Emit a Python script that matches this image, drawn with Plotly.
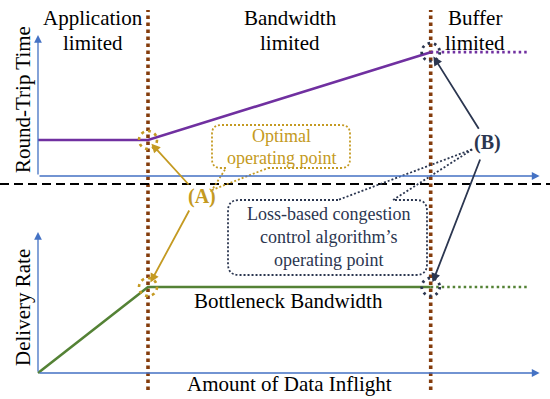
import plotly.graph_objects as go

# ---- data (conceptual units: inflight in BDP, RTT in minRTT, rate in BtlBw) ----
inflight = [0, 1, 3.57]          # origin, BDP, BDP + buffer
rtt = [1, 1, 3.44]               # round-trip time
rate = [0, 1, 1]                 # delivery rate
ext_x = [3.57, 4.47]             # beyond buffer (dotted)
rtt_ext = [3.44, 3.44]
rate_ext = [1, 1]
axis_end_x = 4.56
axis_end_rtt = 3.92
axis_end_rate = 1.64

W, H = 550, 399
PURPLE = "#7030A0"
GREEN = "#548235"
BLUE = "#4472C4"
BROWN = "#843C0C"
GOLD = "#C49A22"
NAVY = "#2B3650"
FONT = "Liberation Serif"


def P(px, py):
    return px / W, 1 - py / H


fig = go.Figure()
fig.add_trace(go.Scatter(x=inflight, y=rtt, mode="lines", line=dict(color=PURPLE, width=2.6),
                         xaxis="x", yaxis="y", hoverinfo="skip"))
fig.add_trace(go.Scatter(x=ext_x, y=rtt_ext, mode="lines", line=dict(color=PURPLE, width=2.6, dash="2.5px,3px"),
                         xaxis="x", yaxis="y", hoverinfo="skip"))
fig.add_trace(go.Scatter(x=inflight, y=rate, mode="lines", line=dict(color=GREEN, width=2.6),
                         xaxis="x", yaxis="y2", hoverinfo="skip"))
fig.add_trace(go.Scatter(x=ext_x, y=rate_ext, mode="lines", line=dict(color=GREEN, width=2.6, dash="2.5px,3px"),
                         xaxis="x", yaxis="y2", hoverinfo="skip"))

shapes = []
annotations = []

# vertical region separators
for xv in (inflight[1], inflight[2]):
    shapes.append(dict(type="line", xref="x", yref="paper", x0=xv, x1=xv,
                       y0=P(0, 390)[1], y1=P(0, 10)[1],
                       line=dict(color=BROWN, width=3.6, dash="3.5px,3.5px"), layer="below"))

# separator between panels
shapes.append(dict(type="line", xref="paper", yref="paper", x0=0, x1=1,
                   y0=P(0, 184)[1], y1=P(0, 184)[1],
                   line=dict(color="black", width=1.8, dash="9px,5px")))

# axes with arrows
for yref, top in (("y", axis_end_rtt), ("y2", axis_end_rate)):
    annotations.append(dict(x=axis_end_x, y=0, xref="x", yref=yref, ax=0, ay=0, axref="x", ayref=yref,
                            text="", showarrow=True, arrowhead=2, arrowsize=1.2, arrowwidth=1.3,
                            arrowcolor=BLUE))
    annotations.append(dict(x=0, y=top, xref="x", yref=yref, ax=0, ay=0, axref="x", ayref=yref,
                            text="", showarrow=True, arrowhead=2, arrowsize=1.2, arrowwidth=1.3,
                            arrowcolor=BLUE))

# operating point circles
def circ(x, y, yref, color, dash, r=10, w=2):
    return dict(type="circle", xref="x", yref=yref, xsizemode="pixel", ysizemode="pixel",
                xanchor=x, yanchor=y, x0=-r, x1=r, y0=-r, y1=r,
                line=dict(color=color, width=w, dash=dash))

shapes.append(circ(inflight[1], rtt[1], "y", GOLD, "3px,4px", r=9, w=2.6))
shapes.append(circ(inflight[1], rate[1], "y2", GOLD, "3px,4px", r=9, w=2.6))
shapes.append(circ(inflight[2], rtt[2], "y", NAVY, "2.5px,4px", r=9, w=2.8))
shapes.append(circ(inflight[2], rate[2], "y2", NAVY, "2.5px,4px", r=9, w=2.8))

# callout boxes (rounded, dotted, with wedge)
def callout(x0, y0, x1, y1, r, wedge, side, tip):
    a, b = wedge
    def pp(px, py):
        X, Y = P(px, py)
        return f"{X:.5f},{Y:.5f}"
    if side == "top":
        d = f"M{pp(a, y0)} L{pp(x0 + r, y0)} Q{pp(x0, y0)} {pp(x0, y0 + r)} L{pp(x0, y1 - r)} " \
            f"Q{pp(x0, y1)} {pp(x0 + r, y1)} L{pp(x1 - r, y1)} Q{pp(x1, y1)} {pp(x1, y1 - r)} " \
            f"L{pp(x1, y0 + r)} Q{pp(x1, y0)} {pp(x1 - r, y0)} L{pp(b, y0)} L{pp(*tip)} Z"
    else:
        d = f"M{pp(b, y1)} L{pp(x1 - r, y1)} Q{pp(x1, y1)} {pp(x1, y1 - r)} L{pp(x1, y0 + r)} " \
            f"Q{pp(x1, y0)} {pp(x1 - r, y0)} L{pp(x0 + r, y0)} Q{pp(x0, y0)} {pp(x0, y0 + r)} " \
            f"L{pp(x0, y1 - r)} Q{pp(x0, y1)} {pp(x0 + r, y1)} L{pp(a, y1)} L{pp(*tip)} Z"
    return d

shapes.append(dict(type="path", xref="paper", yref="paper",
                   path=callout(212, 125, 350, 168, 9, (226, 268), "bottom", (212, 190)),
                   line=dict(color=GOLD, width=1.8, dash="2px,2px"), fillcolor="rgba(0,0,0,0)"))
shapes.append(dict(type="path", xref="paper", yref="paper",
                   path=callout(228, 200, 427, 275, 11, (338, 393), "top", (473, 149)),
                   line=dict(color=NAVY, width=1.8, dash="2px,2px"), fillcolor="rgba(0,0,0,0)"))

# arrows from (A) and (B)
def arr(x, y, yref, ax, ay, color):
    return dict(x=x, y=y, xref="x", yref=yref, ax=ax, ay=ay, text="", showarrow=True,
                arrowhead=2, arrowsize=1, arrowwidth=1.8, arrowcolor=color, standoff=5)

annotations.append(arr(inflight[1], rtt[1], "y", 42, 46, GOLD))
annotations.append(arr(inflight[1], rate[1], "y2", 42, -78, GOLD))
annotations.append(arr(inflight[2], rtt[2], "y", 49, 78, NAVY))
annotations.append(arr(inflight[2], rate[2], "y2", 50, -129, NAVY))

# texts
def txt(s, px, py, size=21, color="black", angle=0, bold=False):
    X, Y = P(px, py)
    if bold:
        s = f"<b>{s}</b>"
    return dict(x=X, y=Y, xref="paper", yref="paper", text=s, showarrow=False,
                font=dict(family=FONT, size=size, color=color), textangle=angle,
                xanchor="center", yanchor="middle")

annotations += [
    txt("Application", 93, 18), txt("limited", 93, 43),
    txt("Bandwidth", 290, 18), txt("limited", 290, 43),
    txt("Buffer", 475, 18), txt("limited", 475, 43),
    txt("Round-Trip Time", 23, 100, size=21, angle=-90),
    txt("Delivery Rate", 23, 308, size=21, angle=-90),
    txt("Amount of Data Inflight", 289, 384, size=21),
    txt("Bottleneck Bandwidth", 288, 301, size=21),
    txt("Optimal", 281, 136, size=18, color=GOLD),
    txt("operating point", 281, 158, size=18, color=GOLD),
    txt("Loss-based congestion", 328, 214, size=18, color=NAVY),
    txt("control algorithm’s", 328, 237, size=18, color=NAVY),
    txt("operating point", 328, 260, size=18, color=NAVY),
    txt("(A)", 202, 197, size=20, color=GOLD, bold=True),
    txt("(B)", 487, 142, size=20, color=NAVY, bold=True),
]

x_lo = -38 / 110
x_hi = (W - 38) / 110
fig.update_layout(
    width=W, height=H, autosize=False,
    margin=dict(l=0, r=0, t=0, b=0),
    paper_bgcolor="white", plot_bgcolor="white",
    showlegend=False,
    xaxis=dict(range=[x_lo, x_hi], visible=False, domain=[0, 1], fixedrange=True),
    yaxis=dict(range=[-(H - 176) / 36, 176 / 36], visible=False, domain=[0, 1], fixedrange=True),
    yaxis2=dict(range=[-(H - 373) / 86, 373 / 86], visible=False, overlaying="y", fixedrange=True),
    shapes=shapes,
    annotations=annotations,
)

fig.write_html("out.html", config={"displayModeBar": False},
               post_script="document.body.style.margin='0px';document.body.style.overflow='hidden';")
